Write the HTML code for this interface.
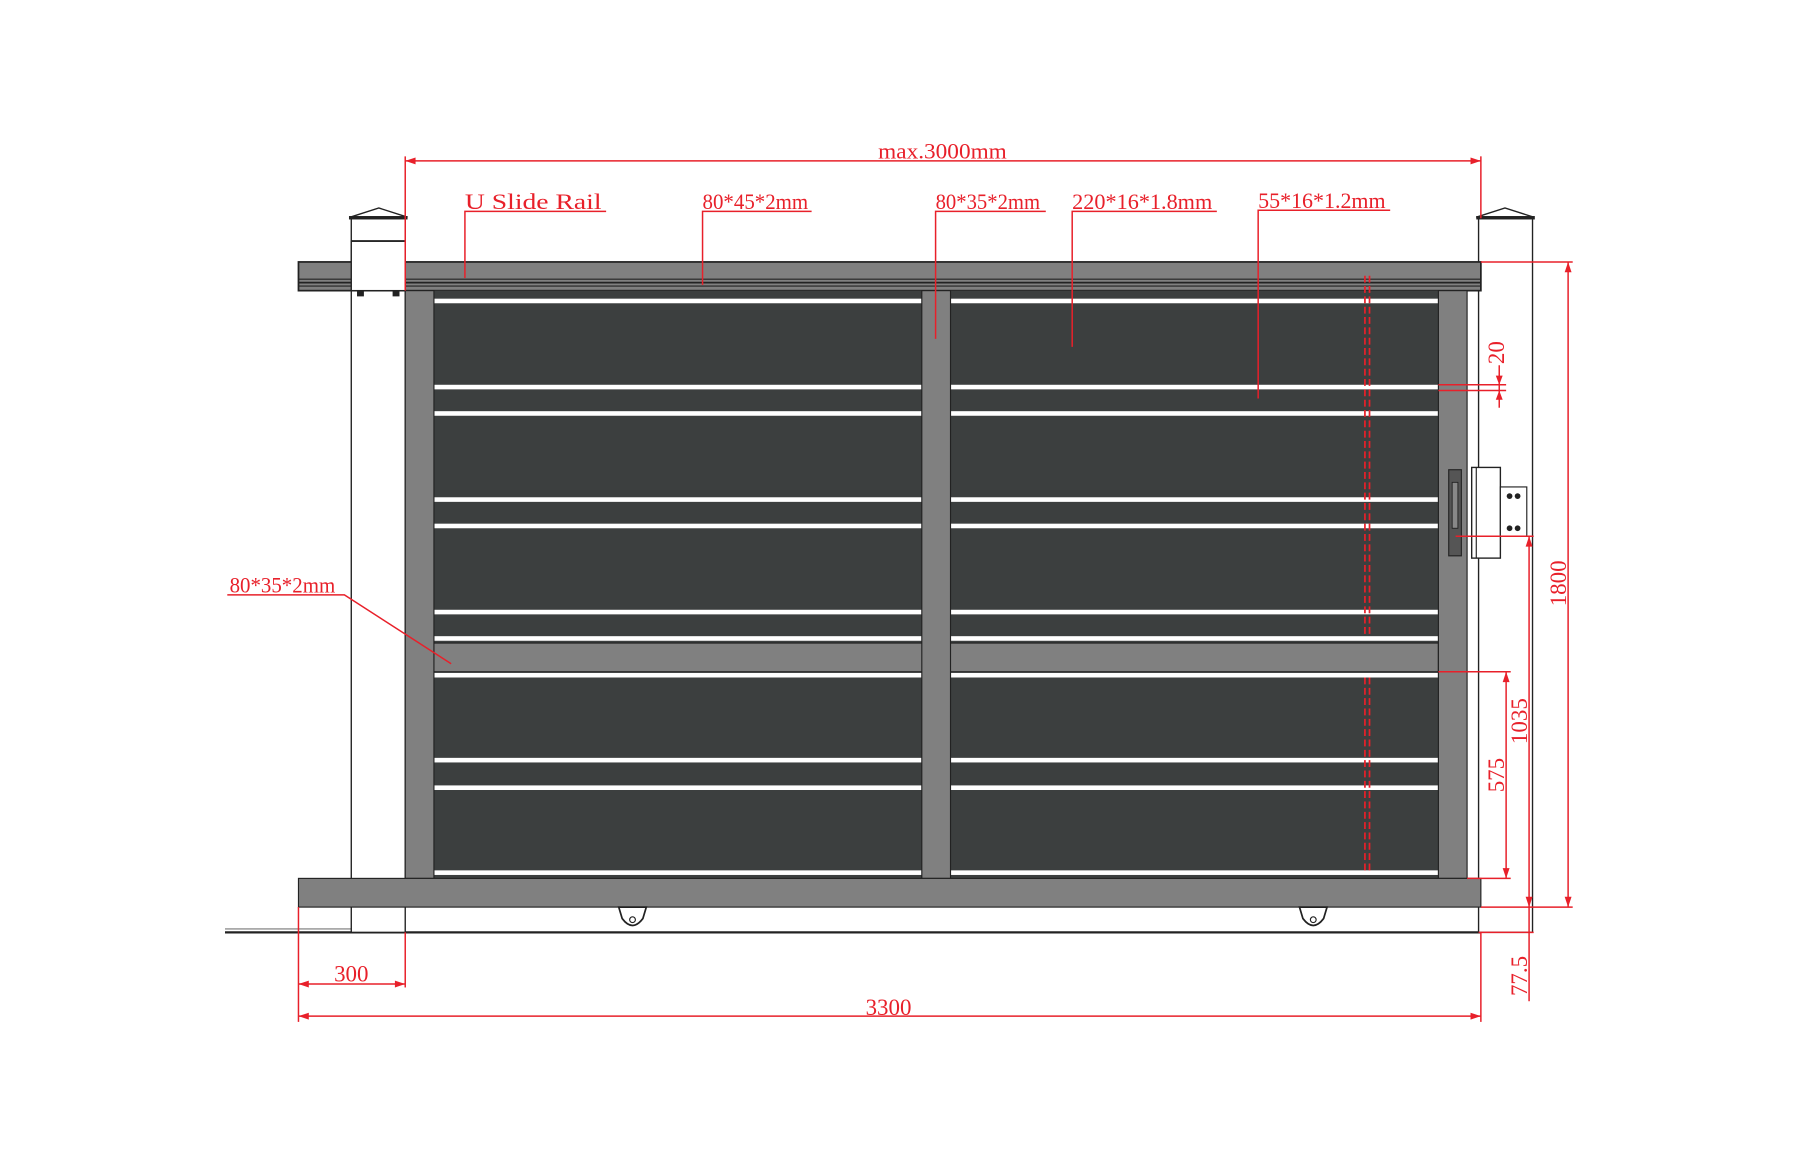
<!DOCTYPE html>
<html><head><meta charset="utf-8"><style>html,body{margin:0;padding:0;background:#fff}svg{display:block}text{font-family:"Liberation Serif",serif;fill:#e8202a}</style></head>
<body>
<svg width="1800" height="1161" viewBox="0 0 1568 1011" xmlns="http://www.w3.org/2000/svg">
<rect width="1568" height="1011" fill="#fff"/>
<line x1="196" y1="812" x2="1290" y2="812" stroke="#222" stroke-width="2"/>
<line x1="196" y1="809" x2="306" y2="809" stroke="#777" stroke-width="1"/>
<rect x="306" y="190" width="47" height="622" fill="#fff" stroke="#222" stroke-width="1.2"/>
<line x1="306" y1="210" x2="353" y2="210" stroke="#222" stroke-width="2"/>
<polygon points="305,189 330,181 355,189" fill="#fff" stroke="#222" stroke-width="1.2"/>
<rect x="304" y="188" width="51" height="3" fill="#222"/>
<rect x="1288" y="190" width="47" height="622" fill="#fff" stroke="#222" stroke-width="1.2"/>
<polygon points="1286,189 1311,181 1336,189" fill="#fff" stroke="#222" stroke-width="1.2"/>
<rect x="1286" y="188" width="51" height="3" fill="#222"/>
<rect x="260" y="228" width="1030" height="25" fill="#808080" stroke="#222" stroke-width="1.5"/>
<line x1="260" y1="243" x2="1290" y2="243" stroke="#222" stroke-width="1"/>
<line x1="260" y1="246" x2="1290" y2="246" stroke="#222" stroke-width="1.5"/>
<line x1="260" y1="249" x2="1290" y2="249" stroke="#222" stroke-width="1"/>
<rect x="306" y="210" width="47" height="43" fill="#fff" stroke="#222" stroke-width="1.2"/>
<rect x="311" y="253" width="6" height="5" fill="#222"/><rect x="342" y="253" width="6" height="5" fill="#222"/>
<rect x="378" y="253" width="875" height="512" fill="#3c3f3f"/>
<g fill="#fff">
<rect x="378" y="260" width="875" height="4"/>
<rect x="378" y="335" width="875" height="4"/><rect x="378" y="358" width="875" height="4"/>
<rect x="378" y="433" width="875" height="4"/><rect x="378" y="456" width="875" height="4"/>
<rect x="378" y="531" width="875" height="4"/><rect x="378" y="554" width="875" height="4"/>
<rect x="378" y="586" width="875" height="4"/>
<rect x="378" y="660" width="875" height="4"/><rect x="378" y="684" width="875" height="4"/>
<rect x="378" y="758" width="875" height="4"/>
</g>
<rect x="378" y="560" width="875" height="25" fill="#808080" stroke="#222" stroke-width="1"/>
<g fill="#808080" stroke="#222" stroke-width="1">
<rect x="353" y="253" width="25" height="512"/>
<rect x="803" y="253" width="25" height="512"/>
<rect x="1253" y="253" width="25" height="512"/>
<rect x="260" y="765" width="1030" height="25"/>
</g>
<path d="M539,790 L563,790 L560,800 Q551,812 542,800 Z" fill="#fff" stroke="#222" stroke-width="1.5"/>
<circle cx="551" cy="801" r="2.5" fill="none" stroke="#222"/>
<path d="M1132,790 L1156,790 L1153,800 Q1144,812 1135,800 Z" fill="#fff" stroke="#222" stroke-width="1.5"/>
<circle cx="1144" cy="801" r="2.5" fill="none" stroke="#222"/>
<rect x="1262" y="409" width="11" height="75" fill="#555" stroke="#222"/>
<rect x="1265" y="420" width="5" height="40" fill="#888" stroke="#222" stroke-width="0.8"/>
<rect x="1282" y="407" width="25" height="79" fill="#fff" stroke="#222" stroke-width="1.2"/>
<line x1="1286" y1="407" x2="1286" y2="486" stroke="#222"/>
<rect x="1307" y="424" width="23" height="43" fill="#fff" stroke="#222"/>
<circle cx="1315" cy="432" r="2.5" fill="#222"/><circle cx="1322" cy="432" r="2.5" fill="#222"/>
<circle cx="1315" cy="460" r="2.5" fill="#222"/><circle cx="1322" cy="460" r="2.5" fill="#222"/>
<g stroke="#e8202a" stroke-width="1.5" stroke-dasharray="6,3" fill="none">
<line x1="1189" y1="240" x2="1189" y2="555"/><line x1="1193" y1="240" x2="1193" y2="555"/>
<line x1="1189" y1="590" x2="1189" y2="760"/><line x1="1193" y1="590" x2="1193" y2="760"/>
</g>
<g stroke="#e8202a" stroke-width="1.3" fill="none">
<line x1="353" y1="140" x2="1290" y2="140"/><line x1="353" y1="136" x2="353" y2="253"/><line x1="1290" y1="136" x2="1290" y2="190"/>
<line x1="260" y1="885" x2="1290" y2="885"/><line x1="260" y1="790" x2="260" y2="890"/><line x1="1290" y1="812" x2="1290" y2="890"/>
<line x1="260" y1="857" x2="353" y2="857"/><line x1="353" y1="812" x2="353" y2="860"/>
<line x1="1290" y1="228" x2="1370" y2="228"/><line x1="1366" y1="228" x2="1366" y2="790"/><line x1="1290" y1="790" x2="1370" y2="790"/>
<line x1="1268" y1="467" x2="1336" y2="467"/><line x1="1332" y1="467" x2="1332" y2="812"/>
<line x1="1253" y1="585" x2="1316" y2="585"/><line x1="1312" y1="585" x2="1312" y2="765"/><line x1="1278" y1="765" x2="1316" y2="765"/>
<line x1="1288" y1="812" x2="1336" y2="812"/><line x1="1332" y1="812" x2="1332" y2="872"/>
<line x1="1253" y1="335" x2="1312" y2="335"/><line x1="1253" y1="340" x2="1312" y2="340"/><line x1="1306" y1="318" x2="1306" y2="355"/>
<polyline points="405,242 405,184 528,184"/>
<polyline points="612,248 612,184 707,184"/>
<polyline points="815,295 815,184 911,184"/>
<polyline points="934,302 934,184 1060,184"/>
<polyline points="1096,347 1096,183 1211,183"/>
<polyline points="393,578 300,518 198,518"/>
</g>
<g fill="#e8202a">
<polygon points="353,140 362,137 362,143"/><polygon points="1290,140 1281,137 1281,143"/>
<polygon points="260,885 269,882 269,888"/><polygon points="1290,885 1281,882 1281,888"/>
<polygon points="260,857 269,854 269,860"/><polygon points="353,857 344,854 344,860"/>
<polygon points="1366,228 1363,237 1369,237"/><polygon points="1366,790 1363,781 1369,781"/>
<polygon points="1332,467 1329,476 1335,476"/><polygon points="1332,790 1329,781 1335,781"/>
<polygon points="1312,585 1309,594 1315,594"/><polygon points="1312,765 1309,756 1315,756"/>
<polygon points="1306,335 1303,327 1309,327"/><polygon points="1306,340 1303,348 1309,348"/>
</g>
<g font-size="19">
<text x="765" y="138" textLength="112" lengthAdjust="spacingAndGlyphs">max.3000mm</text>
<text x="405" y="182" textLength="119" lengthAdjust="spacingAndGlyphs">U Slide Rail</text>
<text x="612" y="182" textLength="92" lengthAdjust="spacingAndGlyphs">80*45*2mm</text>
<text x="815" y="182" textLength="91" lengthAdjust="spacingAndGlyphs">80*35*2mm</text>
<text x="934" y="182" textLength="122" lengthAdjust="spacingAndGlyphs">220*16*1.8mm</text>
<text x="1096" y="181" textLength="111" lengthAdjust="spacingAndGlyphs">55*16*1.2mm</text>
<text x="200" y="516" textLength="92" lengthAdjust="spacingAndGlyphs">80*35*2mm</text>
<text x="774" y="884" font-size="20" text-anchor="middle">3300</text>
<text x="306" y="855" font-size="20" text-anchor="middle">300</text>
<text transform="translate(1364,508) rotate(-90)" font-size="20" text-anchor="middle">1800</text>
<text transform="translate(1330,628) rotate(-90)" font-size="20" text-anchor="middle">1035</text>
<text transform="translate(1310,675) rotate(-90)" font-size="20" text-anchor="middle">575</text>
<text transform="translate(1330,850) rotate(-90)" font-size="20" text-anchor="middle">77.5</text>
<text transform="translate(1310,307) rotate(-90)" font-size="20" text-anchor="middle">20</text>
</g>
</svg>
</body></html>
